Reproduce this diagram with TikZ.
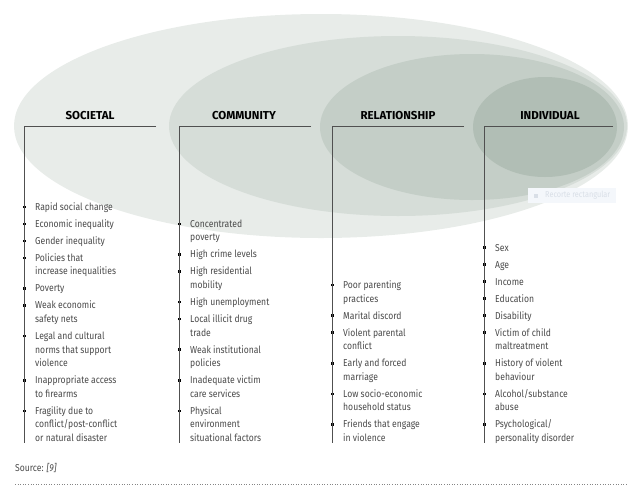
\documentclass[tikz,border=0pt]{standalone}
\usepackage{fontspec}
\setmainfont[FakeStretch=0.86]{Fira Sans}
\newfontfamily\headfont{Fira Sans}
\usetikzlibrary{positioning}
\definecolor{ringA}{HTML}{E8ECE9}
\definecolor{ringB}{HTML}{D6DDD8}
\definecolor{ringC}{HTML}{C4CEC7}
\definecolor{ringD}{HTML}{B1BEB5}
\definecolor{rulegrey}{HTML}{505050}
\definecolor{bodygrey}{HTML}{4A4A4A}
\definecolor{tipbg}{HTML}{F4F7FB}
\definecolor{tiptext}{HTML}{D9DFE7}
\newcommand{\bul}{\makebox[0pt]{\color{black}\raisebox{2.2pt}{\rule{2.6pt}{2.6pt}}}\hspace{11pt}}
\newcommand{\cnt}{\hspace{11pt}}
\tikzset{
  head/.style = {font=\headfont\fontsize{11.5}{12}\selectfont\bfseries, text=black, inner sep=0pt},
  factors/.style = {anchor=base west, inner sep=0pt, text=bodygrey,
    font=\fontsize{10}{13.6}\selectfont},
  rule/.style = {draw=rulegrey, line width=0.9pt}
}
\begin{document}
\begin{tikzpicture}[x=1pt, y=-1pt]
		\useasboundingbox (0,0) rectangle (640,491);
		% nested levels
		\fill[ringA] (321,126) ellipse [x radius=307, y radius=112];
		\fill[ringB] (398,126) ellipse [x radius=229, y radius=90];
		\fill[ringC] (472,127) ellipse [x radius=152, y radius=73];
		\fill[ringD] (545,127) ellipse [x radius=72, y radius=50];
		% level headings
		\node[head] (soc) at (90,115.5) {SOCIETAL};
		\node[head] (com) at (244,115.5) {COMMUNITY};
		\node[head] (rel) at (398,115.5) {RELATIONSHIP};
		\node[head] (ind) at (550,115.5) {INDIVIDUAL};
		\coordinate (soc-r) at (156,126.5);
		\coordinate (com-r) at (311,126.5);
		\coordinate (rel-r) at (464,126.5);
		\coordinate (ind-r) at (613,126.5);
		% factor lists
		\node[factors] (soc-list) at (24,441.5) {\begin{tabular}[b]{@{}l@{}}
			\bul Rapid social change\\[3.4pt]
			\bul Economic inequality\\[3.4pt]
			\bul Gender inequality\\[3.4pt]
			\bul Policies that\\
			\cnt increase inequalities\\[3.4pt]
			\bul Poverty\\[3.4pt]
			\bul Weak economic\\
			\cnt safety nets\\[3.4pt]
			\bul Legal and cultural\\
			\cnt norms that support\\
			\cnt violence\\[3.4pt]
			\bul Inappropriate access\\
			\cnt to firearms\\[3.4pt]
			\bul Fragility due to\\
			\cnt conflict/post-conflict\\
			\cnt or natural disaster
		\end{tabular}};
		\node[factors] (com-list) at (179,441.5) {\begin{tabular}[b]{@{}l@{}}
			\bul Concentrated\\
			\cnt poverty\\[3.4pt]
			\bul High crime levels\\[3.4pt]
			\bul High residential\\
			\cnt mobility\\[3.4pt]
			\bul High unemployment\\[3.4pt]
			\bul Local illicit drug\\
			\cnt trade\\[3.4pt]
			\bul Weak institutional\\
			\cnt policies\\[3.4pt]
			\bul Inadequate victim\\
			\cnt care services\\[3.4pt]
			\bul Physical\\
			\cnt environment\\
			\cnt situational factors
		\end{tabular}};
		\node[factors] (rel-list) at (332,441.5) {\begin{tabular}[b]{@{}l@{}}
			\bul Poor parenting\\
			\cnt practices\\[3.4pt]
			\bul Marital discord\\[3.4pt]
			\bul Violent parental\\
			\cnt conflict\\[3.4pt]
			\bul Early and forced\\
			\cnt marriage\\[3.4pt]
			\bul Low socio-economic\\
			\cnt household status\\[3.4pt]
			\bul Friends that engage\\
			\cnt in violence
		\end{tabular}};
		\node[factors] (ind-list) at (484,441.5) {\begin{tabular}[b]{@{}l@{}}
			\bul Sex\\[3.4pt]
			\bul Age\\[3.4pt]
			\bul Income\\[3.4pt]
			\bul Education\\[3.4pt]
			\bul Disability\\[3.4pt]
			\bul Victim of child\\
			\cnt maltreatment\\[3.4pt]
			\bul History of violent\\
			\cnt behaviour\\[3.4pt]
			\bul Alcohol/substance\\
			\cnt abuse\\[3.4pt]
			\bul Psychological/\\
			\cnt personality disorder
		\end{tabular}};
		\coordinate (soc-b) at (24,443);
		\coordinate (com-b) at (179,443);
		\coordinate (rel-b) at (332,443);
		\coordinate (ind-b) at (484,443);
		% brackets
		\foreach \lvl in {soc, com, rel, ind}
			\draw[rule] (\lvl-r) -| (\lvl-b);
		% source line
		\node[anchor=base west, inner sep=0pt, text=bodygrey, font=\fontsize{10}{12}\selectfont]
			(src) at (15,471) {Source: \textit{[9]}};
		\draw[rulegrey!70, dotted, line width=0.6pt] (15,484) -- (628,484);
		% screen tooltip
		\node[fill=tipbg, text=tiptext, inner xsep=6pt, minimum height=15pt, anchor=west,
			font=\fontsize{8.5}{10}\selectfont] (tip) at (528,195.5)
			{\rule{4pt}{4pt}\hspace{7pt}Recorte rectangular};
	\end{tikzpicture}
\end{document}
